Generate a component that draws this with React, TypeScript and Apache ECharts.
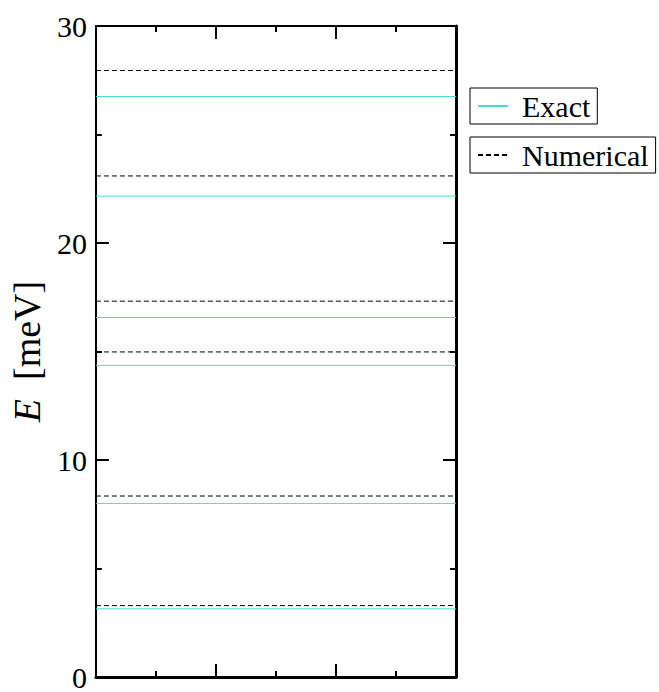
import React, { useEffect, useRef } from "react";
import * as echarts from "echarts";

const exactLevels = [3.14, 8.0, 14.36, 16.57, 22.16, 26.75];
const numericalLevels = [3.29, 8.34, 14.98, 17.32, 23.09, 27.95];
const xRange = [0, 6];
const yTicks = [0, 10, 20, 30];

const FONT = '"Liberation Serif", "Times New Roman", serif';
const CYAN = "#48dccc";

export default function App() {
  const ref = useRef<HTMLDivElement>(null);
  useEffect(() => {
    if (!ref.current) return;
    const chart = echarts.init(ref.current, null, { renderer: "svg" });
    const mkSeries = (name: string, levels: number[], color: string, type: any) =>
      levels.map((v) => ({
        name,
        type: "line",
        data: [
          [xRange[0], v],
          [xRange[1], v],
        ],
        symbol: "none",
        showSymbol: false,
        silent: true,
        itemStyle: { color },
        lineStyle: { color, width: 1, type },
      }));
    const tickCommon = {
      axisTick: { show: true, inside: true, length: 13, lineStyle: { color: "#000", width: 2 } },
      minorTick: { show: true, splitNumber: 2, length: 6, lineStyle: { color: "#000", width: 2 } },
      splitLine: { show: false },
      minorSplitLine: { show: false },
    };
    const legendCommon = {
      orient: "horizontal",
      borderColor: "#000",
      borderWidth: 1,
      borderRadius: 0,
      itemWidth: 30,
      itemHeight: 14,
      padding: [3, 7, 3, 7],
      itemStyle: { opacity: 0 },
      textStyle: { fontFamily: FONT, fontSize: 30, color: "#000", padding: [0, 0, 0, 9] },
    };
    chart.setOption({
      animation: false,
      backgroundColor: "#fff",
      grid: { left: 93, top: 26, right: 203, bottom: 10, containLabel: false },
      legend: [
        { ...legendCommon, left: 470, top: 88, data: ["Exact"] },
        { ...legendCommon, left: 470, top: 137, data: ["Numerical"] },
      ],
      xAxis: [
        {
          type: "value",
          min: xRange[0],
          max: xRange[1],
          interval: 2,
          position: "bottom",
          axisLine: { show: true, onZero: false, lineStyle: { color: "#000", width: 3 } },
          axisLabel: { show: false },
          ...tickCommon,
        },
        {
          type: "value",
          min: xRange[0],
          max: xRange[1],
          interval: 2,
          position: "top",
          axisLine: { show: true, onZero: false, lineStyle: { color: "#000", width: 2 } },
          axisLabel: { show: false },
          ...tickCommon,
        },
      ],
      yAxis: [
        {
          type: "value",
          min: yTicks[0],
          max: yTicks[yTicks.length - 1],
          interval: 10,
          position: "left",
          axisLine: { show: true, onZero: false, lineStyle: { color: "#000", width: 2 } },
          axisLabel: { show: true, fontFamily: FONT, fontSize: 30, color: "#000", margin: 9 },
          name: "{i|E}  [meV]",
          nameLocation: "middle",
          nameGap: 40,
          nameTextStyle: {
            fontFamily: FONT,
            fontSize: 38,
            color: "#000",
            rich: { i: { fontStyle: "italic", fontFamily: FONT, fontSize: 38, color: "#000" } },
          },
          ...tickCommon,
        },
        {
          type: "value",
          min: yTicks[0],
          max: yTicks[yTicks.length - 1],
          interval: 10,
          position: "right",
          axisLine: { show: true, onZero: false, lineStyle: { color: "#000", width: 3 } },
          axisLabel: { show: false },
          ...tickCommon,
        },
      ],
      series: [
        ...mkSeries("Exact", exactLevels, CYAN, "solid"),
        ...mkSeries("Numerical", numericalLevels, "#000", [5, 3]),
      ],
    });
    return () => chart.dispose();
  }, []);
  return <div ref={ref} style={{ width: 659, height: 692, position: "absolute", left: 0, top: 0 }} />;
}
